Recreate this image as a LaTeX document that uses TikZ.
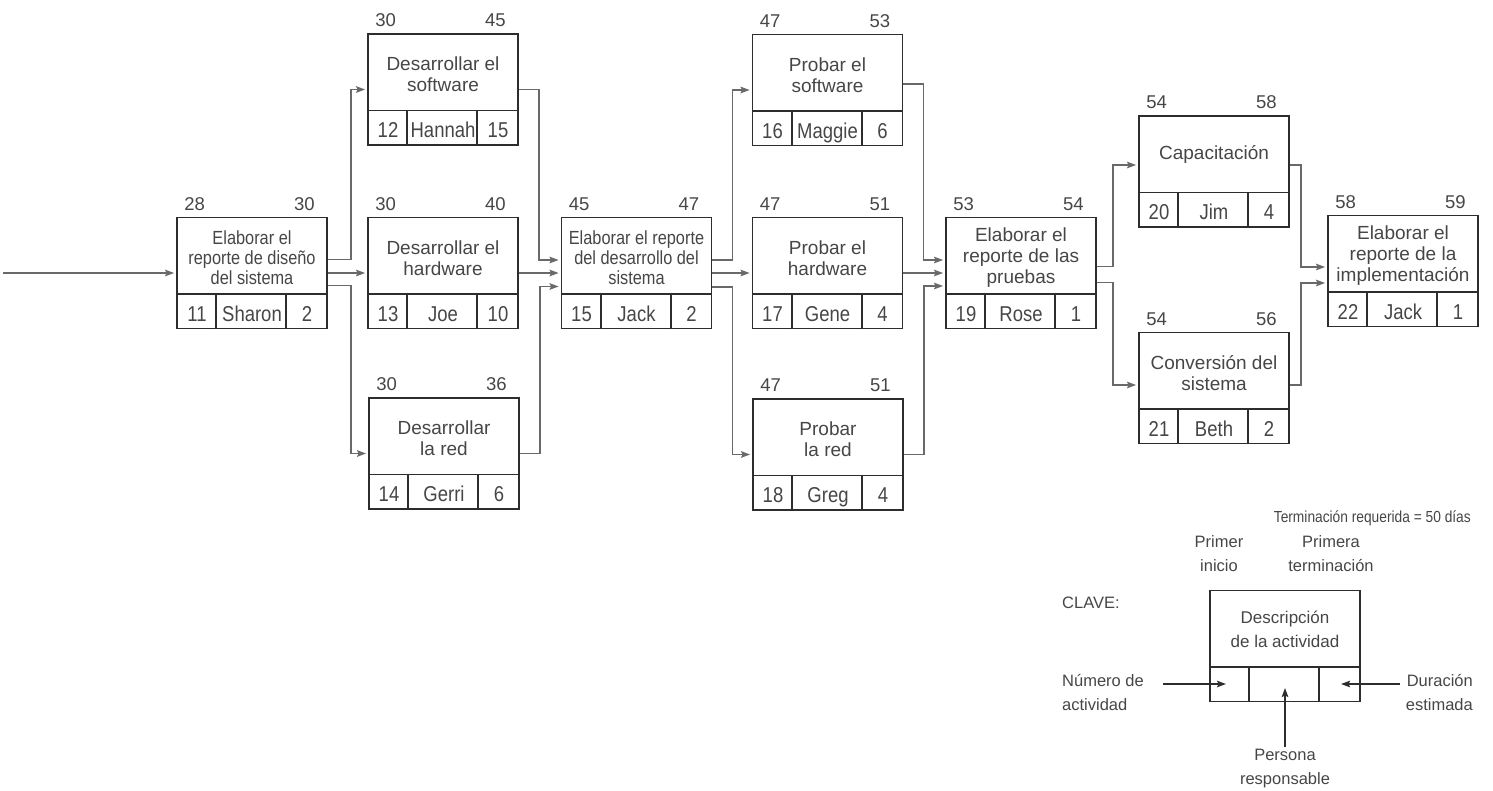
\documentclass[tikz,border=0pt]{standalone}
\usepackage{fontspec}
\setmainfont{Liberation Sans}
\newfontfamily\condfont{Liberation Sans}[FakeStretch=0.86]
\usetikzlibrary{arrows.meta}
\definecolor{NetLine}{RGB}{45,45,45}
\definecolor{NetArrow}{RGB}{105,105,105}
\definecolor{NetText}{RGB}{70,70,70}

\begin{document}
\begin{tikzpicture}[x=1pt, y=-1pt,
    act/.style={rectangle, draw=NetLine, line width=1.8pt, minimum width=150pt,
                minimum height=111pt, inner sep=0pt},
    rule/.style={draw=NetLine, line width=1.8pt},
    desc/.style={align=center, text=NetText, inner sep=0pt,
                 font=\fontsize{19}{21}\selectfont},
    smalldesc/.style={desc, font=\condfont\fontsize{19}{20}\selectfont},
    cell/.style={anchor=base, text=NetText, inner sep=0pt,
                 font=\condfont\fontsize{21.5}{24}\selectfont},
    date/.style={text=NetText, inner sep=0pt, font=\fontsize{18.5}{20}\selectfont},
    note/.style={text=NetText, inner sep=0pt, font=\fontsize{16.5}{24}\selectfont},
    conn/.style={-{Stealth[length=9pt, width=6.5pt, inset=1.5pt]}, draw=NetArrow,
                 line width=1.8pt, shorten >=2pt},
    keyarr/.style={-{Stealth[length=9pt, width=6.5pt, inset=1.5pt]}, draw=NetLine,
                   line width=1.5pt}
  ]
  \useasboundingbox (0,0) rectangle (1493,790);

  % activity boxes: number cell, person cell, duration cell, start and finish
  \foreach \n/\x/\y/\num/\who/\dur/\es/\ef in {
      a11/252/273/11/Sharon/2/28/30,
      a12/443/89.5/12/Hannah/15/30/45,
      a13/443/273/13/Joe/10/30/40,
      a14/444/453.5/14/Gerri/6/30/36,
      a15/636.5/273/15/Jack/2/45/47,
      a16/827.5/90/16/Maggie/6/47/53,
      a17/827.5/273/17/Gene/4/47/51,
      a18/828/454.5/18/Greg/4/47/51,
      a19/1021/273/19/Rose/1/53/54,
      a20/1214/171.5/20/Jim/4/54/58,
      a21/1214/388/21/Beth/2/54/56,
      a22/1403/271/22/Jack/1/58/59}{
    \node[act] (\n) at (\x,\y) {};
    \draw[rule] ([yshift=35.5pt]\n.south west) -- ([yshift=35.5pt]\n.south east);
    \draw[rule] ([xshift=40pt]\n.south west) -- ++(0,-35.5);
    \draw[rule] ([xshift=110pt]\n.south west) -- ++(0,-35.5);
    \node[cell] (\n-num) at ([xshift=-55pt,yshift=-48pt]\n.center) {\num};
    \node[cell] (\n-who) at ([yshift=-48pt]\n.center) {\who};
    \node[cell] (\n-dur) at ([xshift=55pt,yshift=-48pt]\n.center) {\dur};
    \node[date, anchor=base west] (\n-es) at ([xshift=8pt,yshift=6.5pt]\n.north west) {\es};
    \node[date, anchor=base east] (\n-ef) at ([xshift=-13pt,yshift=6.5pt]\n.north east) {\ef};
  }

  \node[smalldesc] (a11-txt) at ([yshift=15pt]a11.center)
        {Elaborar el\\reporte de diseño\\del sistema};
  \node[desc] (a12-txt) at ([yshift=15pt]a12.center) {Desarrollar el\\software};
  \node[desc] (a13-txt) at ([yshift=15pt]a13.center) {Desarrollar el\\hardware};
  \node[desc] (a14-txt) at ([yshift=15pt]a14.center) {Desarrollar\\la red};
  \node[smalldesc] (a15-txt) at ([yshift=15pt]a15.center)
        {Elaborar el reporte\\del desarrollo del\\sistema};
  \node[desc] (a16-txt) at ([yshift=15pt]a16.center) {Probar el\\software};
  \node[desc] (a17-txt) at ([yshift=15pt]a17.center) {Probar el\\hardware};
  \node[desc] (a18-txt) at ([yshift=15pt]a18.center) {Probar\\la red};
  \node[desc] (a19-txt) at ([yshift=15pt]a19.center)
        {Elaborar el\\reporte de las\\pruebas};
  \node[desc] (a20-txt) at ([yshift=17pt]a20.center) {Capacitación};
  \node[desc] (a21-txt) at ([yshift=15pt]a21.center) {Conversión del\\sistema};
  \node[desc] (a22-txt) at ([yshift=15pt]a22.center)
        {Elaborar el\\reporte de la\\implementación};

  % precedence links
  \coordinate (entry) at (3,273);
  \draw[conn] (entry) -- (a11);
  \draw[conn] ([yshift=13.5pt]a11.east) -- ++(23pt,0) |- (a12);
  \draw[conn] (a11) -- (a13);
  \draw[conn] ([yshift=-12.5pt]a11.east) -- ++(23pt,0) |- (a14);
  \draw[conn] (a12.east) -- ++(20pt,0) |- ([yshift=13pt]a15.west);
  \draw[conn] (a13) -- (a15);
  \draw[conn] (a14.east) -- ++(20pt,0) |- ([yshift=-13.5pt]a15.west);
  \draw[conn] ([yshift=13pt]a15.east) -- ++(20pt,0) |- (a16);
  \draw[conn] (a15) -- (a17);
  \draw[conn] ([yshift=-14pt]a15.east) -- ++(20pt,0) |- (a18);
  \draw[conn] ([yshift=6pt]a16.east) -- ++(20pt,0) |- ([yshift=13pt]a19.west);
  \draw[conn] (a17) -- (a19);
  \draw[conn] (a18.east) -- ++(20pt,0) |- ([yshift=-13pt]a19.west);
  \draw[conn] ([yshift=6.5pt]a19.east) -- ++(16pt,0) |- ([yshift=6.5pt]a20.west);
  \draw[conn] ([yshift=-9.5pt]a19.east) -- ++(16pt,0) |- ([yshift=3pt]a21.west);
  \draw[conn] ([yshift=6.5pt]a20.east) -- ++(11pt,0) |- ([yshift=4pt]a22.west);
  \draw[conn] ([yshift=3pt]a21.east) -- ++(11pt,0) |- ([yshift=-12pt]a22.west);

  \node[note, font=\condfont\fontsize{16}{20}\selectfont, anchor=east] (deadline)
        at (1471,518) {Terminación requerida = 50 días};

  % key
  \node[act] (key) at (1285,646) {};
  \draw[rule] ([yshift=35.5pt]key.south west) -- ([yshift=35.5pt]key.south east);
  \draw[rule] ([xshift=40pt]key.south west) -- ++(0,-35.5);
  \draw[rule] ([xshift=110pt]key.south west) -- ++(0,-35.5);
  \coordinate (key-num) at ([xshift=-55pt,yshift=-38pt]key.center);
  \coordinate (key-who) at ([yshift=-38pt]key.center);
  \coordinate (key-dur) at ([xshift=55pt,yshift=-38pt]key.center);
  \node[note, align=center, font=\fontsize{17}{24}\selectfont] (key-txt)
        at ([yshift=17pt]key.center) {Descripción\\de la actividad};

  \node[note, anchor=west] (clave) at (1062,603) {CLAVE:};
  \node[note, align=center] (es-lbl) at (1219,554) {Primer\\inicio};
  \node[note, align=center] (ef-lbl) at (1331,554) {Primera\\terminación};
  \node[note, align=left, anchor=west] (num-lbl) at (1062,692) {Número de\\actividad};
  \node[note, align=right, anchor=east] (dur-lbl) at (1473,692) {Duración\\estimada};
  \node[note, align=center] (who-lbl) at (1285,769) {Persona\\responsable};

  \draw[keyarr, shorten >=4pt] ([xshift=19pt,yshift=8pt]num-lbl.east) -- (key-num);
  \draw[keyarr, shorten >=1pt] ([xshift=-6pt,yshift=8pt]dur-lbl.west) -- (key-dur);
  \draw[keyarr, shorten >=4pt] ([yshift=2pt]who-lbl.north) -- (key-who);
\end{tikzpicture}
\end{document}
